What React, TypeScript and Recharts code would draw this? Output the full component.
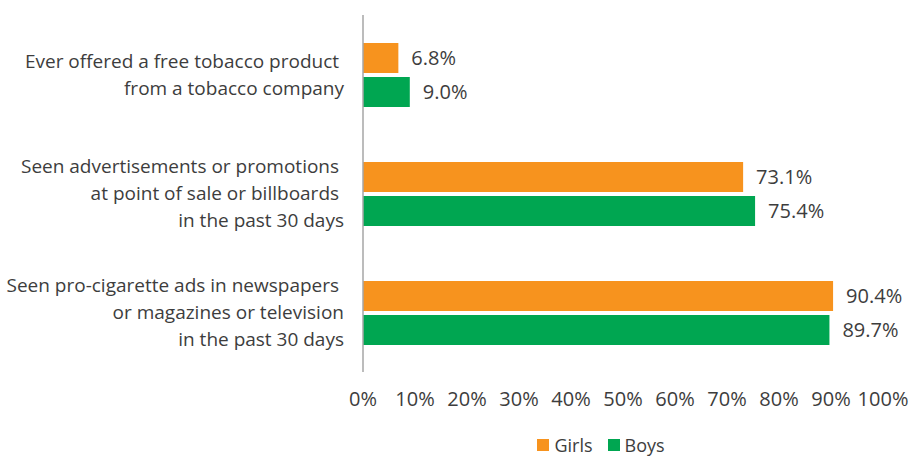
import { BarChart, Bar, XAxis, YAxis, Legend, LabelList } from "recharts"

const categories = [
  "Ever offered a free tobacco product \nfrom a tobacco company",
  "Seen advertisements or promotions \nat point of sale or billboards \nin the past 30 days",
  "Seen pro-cigarette ads in newspapers \nor magazines or television\nin the past 30 days",
]
const girls = [6.8, 73.1, 90.4]
const boys = [9.0, 75.4, 89.7]
const xTicks = [0, 10, 20, 30, 40, 50, 60, 70, 80, 90, 100]

const data = categories.map((name, i) => ({ name, girls: girls[i], boys: boys[i] }))

const FONT = "'Open Sans', sans-serif"
const TEXT = "#3d3d3d"

const CategoryTick = ({ x, y, payload }: any) => {
  const lines: string[] = String(payload.value).split("\n")
  const lh = 27
  const start = y - ((lines.length - 1) * lh) / 2
  return (
    <text
      x={x - 11}
      y={start}
      textAnchor="end"
      fontFamily={FONT}
      fontSize={19}
      fill={TEXT}
      style={{ whiteSpace: "pre" }}
    >
      {lines.map((l, i) => (
        <tspan key={i} x={x - 11} y={start + i * lh} dy="0.36em">
          {l}
        </tspan>
      ))}
    </text>
  )
}

const LegendContent = () => (
  <div
    style={{
      display: "flex",
      justifyContent: "center",
      gap: 15,
      paddingLeft: 290,
      lineHeight: "22px",
      height: 22,
      fontFamily: FONT,
      fontSize: 18,
      color: TEXT,
    }}
  >
    {[
      { label: "Girls", color: "#F7931E" },
      { label: "Boys", color: "#00A651" },
    ].map((it) => (
      <span key={it.label} style={{ display: "flex", alignItems: "center", gap: 5 }}>
        <span style={{ width: 12, height: 12, background: it.color, display: "inline-block" }} />
        {it.label}
      </span>
    ))}
  </div>
)

export default function App() {
  return (
    <div style={{ position: "absolute", left: 0, top: 0 }}>
      <BarChart
        width={912}
        height={456}
        data={data}
        layout="vertical"
        margin={{ top: 15, right: 29, bottom: 0, left: 0 }}
        barSize={30}
        barGap={4}
      >
        <XAxis
          type="number"
          domain={[0, 100]}
          ticks={xTicks}
          tickFormatter={(v) => `${v}%`}
          axisLine={false}
          tickLine={false}
          height={62}
          tick={{ fontFamily: FONT, fontSize: 20, fill: TEXT, dy: 12 }}
          interval={0}
        />
        <YAxis
          type="category"
          dataKey="name"
          width={363}
          axisLine={{ stroke: "#a6a6a6", strokeWidth: 1.5 }}
          tickLine={false}
          tick={<CategoryTick />}
          interval={0}
        />
        <Legend
          verticalAlign="bottom"
          height={22}
          content={<LegendContent />}
          wrapperStyle={{ top: 434, left: 0, width: 912, height: 22 }}
        />
        <Bar dataKey="girls" name="Girls" fill="#F7931E" isAnimationActive={false}>
          <LabelList
            dataKey="girls"
            position="right"
            offset={13}
            formatter={(v: any) => `${Number(v).toFixed(1)}%`}
            style={{ fontFamily: FONT, fontSize: 20, fill: TEXT }}
          />
        </Bar>
        <Bar dataKey="boys" name="Boys" fill="#00A651" isAnimationActive={false}>
          <LabelList
            dataKey="boys"
            position="right"
            offset={13}
            formatter={(v: any) => `${Number(v).toFixed(1)}%`}
            style={{ fontFamily: FONT, fontSize: 20, fill: TEXT }}
          />
        </Bar>
      </BarChart>
    </div>
  )
}
